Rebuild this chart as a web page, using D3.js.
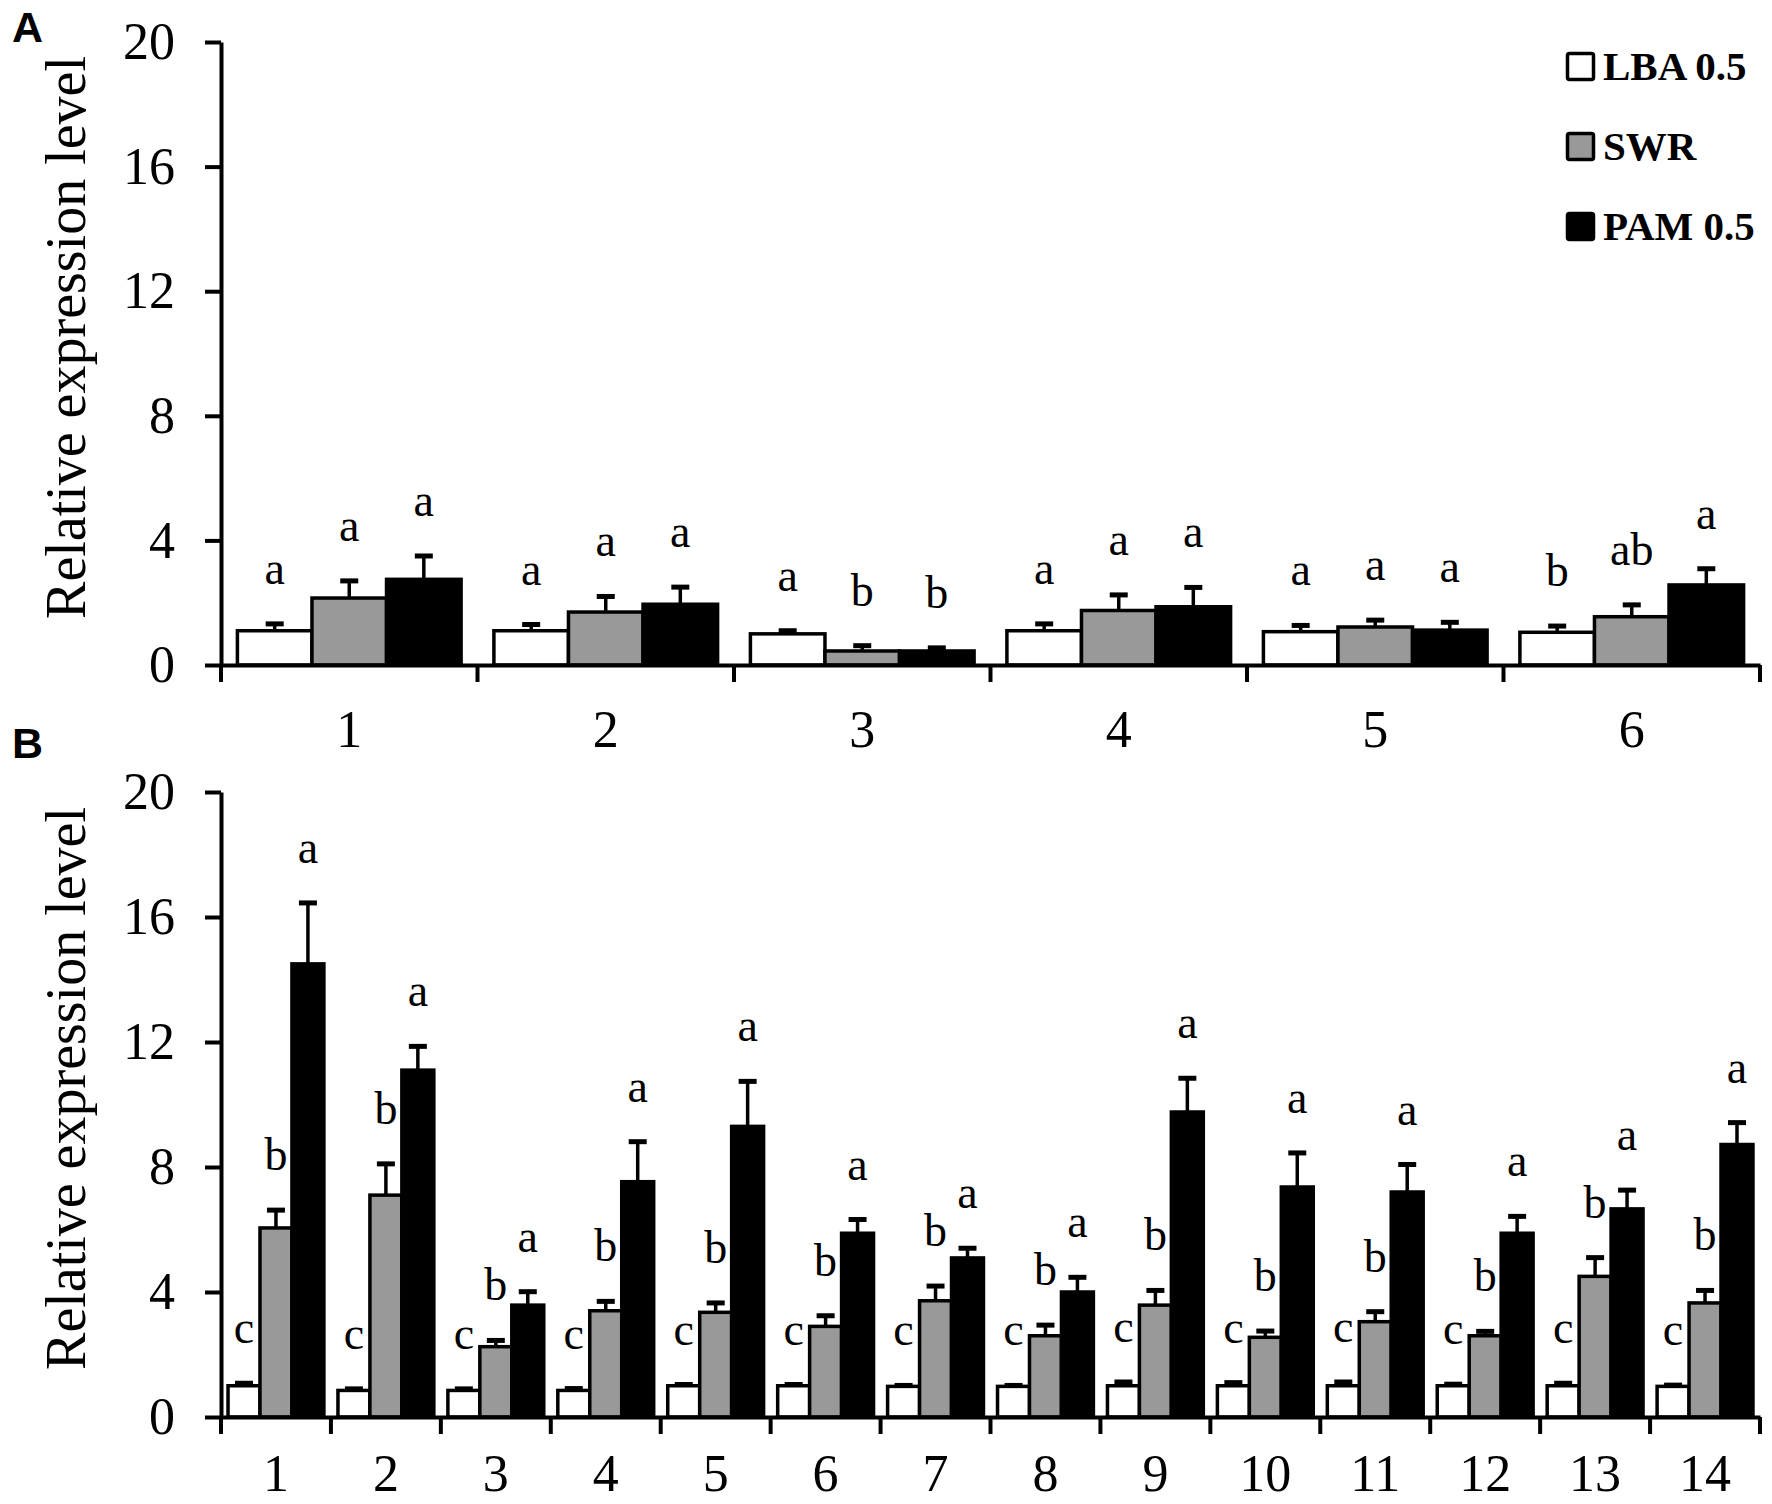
<!DOCTYPE html>
<html>
<head>
<meta charset="utf-8">
<script src="https://cdn.jsdelivr.net/npm/d3@7"></script>
<style>
  html, body { margin: 0; padding: 0; background: #fff; }
  svg { display: block; }
</style>
</head>
<body>
<svg id="chart" width="1772" height="1504"></svg>
<script>
// ---------- DATA ----------
const seriesNames = ["LBA 0.5", "SWR", "PAM 0.5"];
const seriesFill = ["#ffffff", "#999999", "#000000"];
const yTicks = [0, 4, 8, 12, 16, 20];

const catsA = ["1", "2", "3", "4", "5", "6"];
const lbaA    = [1.10, 1.10, 1.00, 1.10, 1.07, 1.05];
const lbaAErr = [0.22, 0.20, 0.10, 0.22, 0.20, 0.20];
const swrA    = [2.15, 1.70, 0.45, 1.75, 1.22, 1.55];
const swrAErr = [0.55, 0.50, 0.17, 0.50, 0.22, 0.38];
const pamA    = [2.75, 1.95, 0.45, 1.87, 1.12, 2.57];
const pamAErr = [0.75, 0.55, 0.10, 0.62, 0.25, 0.52];
const lettersA = [
  ["a","a","a"], ["a","a","a"], ["a","b","b"],
  ["a","a","a"], ["a","a","a"], ["b","ab","a"]
];

const catsB = ["1","2","3","4","5","6","7","8","9","10","11","12","13","14"];
const lbaB    = [1.00, 0.85, 0.85, 0.85, 1.00, 1.00, 0.98, 0.98, 1.00, 1.00, 1.00, 1.00, 1.00, 0.98];
const lbaBErr = [0.08, 0.05, 0.05, 0.06, 0.04, 0.04, 0.03, 0.03, 0.12, 0.10, 0.12, 0.05, 0.08, 0.04];
const swrB    = [6.05, 7.10, 2.25, 3.40, 3.35, 2.90, 3.72, 2.60, 3.58, 2.55, 3.05, 2.60, 4.50, 3.65];
const swrBErr = [0.57, 1.00, 0.20, 0.30, 0.30, 0.34, 0.47, 0.34, 0.47, 0.20, 0.32, 0.14, 0.60, 0.40];
const pamB    = [14.50, 11.10, 3.58, 7.53, 9.30, 5.88, 5.09, 4.00, 9.76, 7.36, 7.20, 5.88, 6.66, 8.72];
const pamBErr = [1.95, 0.76, 0.43, 1.28, 1.44, 0.44, 0.31, 0.47, 1.08, 1.09, 0.88, 0.54, 0.60, 0.70];
const lettersB = catsB.map(() => ["c","b","a"]);

// ---------- DRAW ----------
const svg = d3.select("#chart");
const serif = "'Liberation Serif', 'Times New Roman', serif";
const sans = "'Liberation Sans', Arial, sans-serif";

function buildRows(cats, vals, errs, letters) {
  return cats.map((c, i) => ({
    cat: c,
    items: seriesNames.map((s, j) => ({
      series: s, idx: j, value: vals[j][i], err: errs[j][i], letter: letters[i][j]
    }))
  }));
}

function panel(opts) {
  const { cats, rows, top, bottom, left, right, title, label, labelY, xPad } = opts;
  const g = svg.append("g");

  const x0 = d3.scaleBand().domain(cats).range([left, right]).paddingInner(0).paddingOuter(0);
  const x1 = d3.scaleBand().domain(seriesNames).range([0, x0.bandwidth()]).paddingInner(0).paddingOuter(0.22);
  const y = d3.scaleLinear().domain([0, 20]).range([bottom, top]);

  // bars
  const grp = g.selectAll("g.grp").data(rows).join("g")
    .attr("transform", d => `translate(${x0(d.cat)},0)`);

  grp.selectAll("rect.bar").data(d => d.items).join("rect")
    .attr("class", "bar")
    .attr("x", d => x1(d.series))
    .attr("y", d => y(d.value))
    .attr("width", x1.bandwidth())
    .attr("height", d => y(0) - y(d.value))
    .attr("fill", d => seriesFill[d.idx])
    .attr("stroke", "#000")
    .attr("stroke-width", 3.5);

  // error bars (upper only)
  const capW = 18;
  grp.selectAll("line.err").data(d => d.items).join("line")
    .attr("class", "err")
    .attr("x1", d => x1(d.series) + x1.bandwidth() / 2)
    .attr("x2", d => x1(d.series) + x1.bandwidth() / 2)
    .attr("y1", d => y(d.value))
    .attr("y2", d => y(d.value + d.err))
    .attr("stroke", "#000").attr("stroke-width", 3.5);
  grp.selectAll("line.cap").data(d => d.items).join("line")
    .attr("class", "cap")
    .attr("x1", d => x1(d.series) + x1.bandwidth() / 2 - capW / 2)
    .attr("x2", d => x1(d.series) + x1.bandwidth() / 2 + capW / 2)
    .attr("y1", d => y(d.value + d.err))
    .attr("y2", d => y(d.value + d.err))
    .attr("stroke", "#000").attr("stroke-width", 5);

  // significance letters
  grp.selectAll("text.sig").data(d => d.items).join("text")
    .attr("class", "sig")
    .attr("x", d => x1(d.series) + x1.bandwidth() / 2)
    .attr("y", d => y(d.value + d.err) - 40)
    .attr("text-anchor", "middle")
    .attr("font-family", serif)
    .attr("font-size", 46)
    .attr("fill", "#000")
    .text(d => d.letter);

  // y axis
  const yAxis = g.append("g")
    .attr("transform", `translate(${left},0)`)
    .call(d3.axisLeft(y).tickValues(yTicks).tickSize(16).tickPadding(30).tickSizeOuter(0).tickFormat(d3.format("d")));
  yAxis.select(".domain").attr("stroke", "#000").attr("stroke-width", 4);
  yAxis.selectAll(".tick line").attr("stroke", "#000").attr("stroke-width", 4);
  yAxis.selectAll(".tick text").attr("font-family", serif).attr("font-size", 52).attr("fill", "#000");

  // x axis (labels centred in groups)
  const xAxis = g.append("g")
    .attr("transform", `translate(0,${bottom})`)
    .call(d3.axisBottom(x0).tickSize(0).tickPadding(xPad).tickSizeOuter(0));
  xAxis.select(".domain").attr("stroke", "#000").attr("stroke-width", 4);
  xAxis.selectAll(".tick text").attr("font-family", serif).attr("font-size", 52).attr("fill", "#000");

  // group separator ticks below axis
  const bounds = cats.map(c => x0(c)).concat([x0.range()[1]]);
  g.selectAll("line.sep").data(bounds).join("line")
    .attr("class", "sep")
    .attr("x1", d => d).attr("x2", d => d)
    .attr("y1", bottom).attr("y2", bottom + 17)
    .attr("stroke", "#000").attr("stroke-width", 4);

  // y title
  g.append("text")
    .attr("transform", `translate(85,${(top + bottom) / 2 - 16}) rotate(-90)`)
    .attr("text-anchor", "middle")
    .attr("font-family", serif)
    .attr("font-size", 56)
    .attr("fill", "#000")
    .text(title);

  // panel label
  g.append("text")
    .attr("x", 12).attr("y", labelY)
    .attr("font-family", sans)
    .attr("font-weight", "bold")
    .attr("font-size", 43)
    .attr("fill", "#000")
    .text(label);
}

panel({
  cats: catsA,
  rows: buildRows(catsA, [lbaA, swrA, pamA], [lbaAErr, swrAErr, pamAErr], lettersA),
  top: 42, bottom: 665, left: 221, right: 1760, xPad: 45,
  title: "Relative expression level", label: "A", labelY: 42
});

panel({
  cats: catsB,
  rows: buildRows(catsB, [lbaB, swrB, pamB], [lbaBErr, swrBErr, pamBErr], lettersB),
  top: 792, bottom: 1417, left: 221, right: 1760, xPad: 37,
  title: "Relative expression level", label: "B", labelY: 758
});

// legend
const legend = svg.append("g").attr("transform", "translate(1566,52)");
const lg = legend.selectAll("g").data(seriesNames).join("g")
  .attr("transform", (d, i) => `translate(0,${i * 80})`);
lg.append("rect")
  .attr("x", 1.5).attr("y", 1.5).attr("width", 26).attr("height", 26).attr("rx", 2)
  .attr("fill", (d, i) => seriesFill[i])
  .attr("stroke", "#000").attr("stroke-width", 3.5);
lg.append("text")
  .attr("x", 37).attr("y", 28)
  .attr("font-family", serif).attr("font-weight", "bold").attr("font-size", 41)
  .attr("fill", "#000")
  .text(d => d);
</script>
</body>
</html>
